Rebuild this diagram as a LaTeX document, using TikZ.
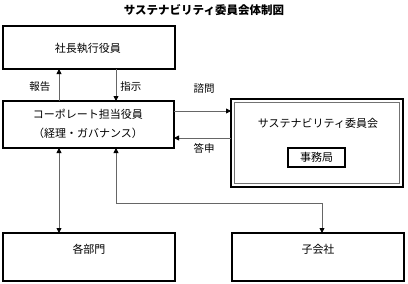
\documentclass[tikz,border=0pt]{standalone}
\usepackage{fontspec}
\setmainfont{Noto Sans CJK JP}
\usetikzlibrary{arrows.meta}
\tikzset{
  thickbox/.style={draw=black, line width=1.6pt, fill=white},
  thinbox/.style={draw=black, line width=1.2pt, fill=white},
  conn/.style={draw=black!60, line width=0.8pt, -{Triangle[black,length=5pt,width=5pt]}},
  conn2/.style={draw=black!60, line width=0.8pt, {Triangle[black,length=5pt,width=5pt]}-{Triangle[black,length=5pt,width=5pt]}},
  lbl/.style={font=\fontsize{10.5}{12}\selectfont, inner sep=0pt},
  txt/.style={font=\fontsize{11}{13}\selectfont, inner sep=0pt},
}
\begin{document}
\begin{tikzpicture}[x=1pt,y=-1pt]
\useasboundingbox (0,0) rectangle (408,284);
\node[font=\fontsize{11.5}{13}\selectfont\bfseries, inner sep=0pt] (title) at (204,10) {サステナビリティ委員会体制図};
% boxes
\draw[thickbox] (3,26) rectangle (175,69);
\node[txt] (pres) at (88,48) {社長執行役員};
\coordinate (presB1) at (59,69);
\coordinate (presB2) at (116,69);
\draw[thickbox] (3,101) rectangle (174,148);
\node[txt] (corp1) at (88,114) {コーポレート担当役員};
\node[txt] (corp2) at (88,133) {（経理・ガバナンス）};
\coordinate (corpT1) at (59,101);
\coordinate (corpT2) at (116,101);
\coordinate (corpB1) at (59,148);
\coordinate (corpB2) at (116,148);
\coordinate (corpR1) at (174,111);
\coordinate (corpR2) at (174,138);
% sustainability committee (double border)
\draw[draw=black, line width=1.1pt, fill=white] (231,99) rectangle (403,187);
\draw[draw=black!55, line width=0.9pt] (234.5,102.5) rectangle (399.5,183.5);
\node[txt] (sus) at (318,123) {サステナビリティ委員会};
\coordinate (susL1) at (231,111);
\coordinate (susL2) at (231,138);
\draw[thickbox] (288,148) rectangle (345,167);
\node[txt] (jim) at (316.5,157.5) {事務局};
% bottom boxes
\draw[thinbox] (3,233) rectangle (175,281);
\node[txt] (dept) at (89,249) {各部門};
\coordinate (deptT) at (59,233);
\draw[thinbox] (232,233) rectangle (404,281);
\node[txt] (sub) at (318,249) {子会社};
\coordinate (subT) at (322,233);
% connectors
\draw[conn] (corpT1) -- (presB1);
\draw[conn] (presB2) -- (corpT2);
\draw[conn] (corpR1) -- (susL1);
\draw[conn] (susL2) -- (corpR2);
\draw[conn2] (corpB1) -- (deptT);
\draw[conn2] (corpB2) |- (322,203) -- (subT);
% labels
\node[lbl] (l1) at (40,87) {報告};
\node[lbl] (l2) at (131,87) {指示};
\node[lbl] (l3) at (204,89) {諮問};
\node[lbl] (l4) at (204,148) {答申};
\end{tikzpicture}
\end{document}
